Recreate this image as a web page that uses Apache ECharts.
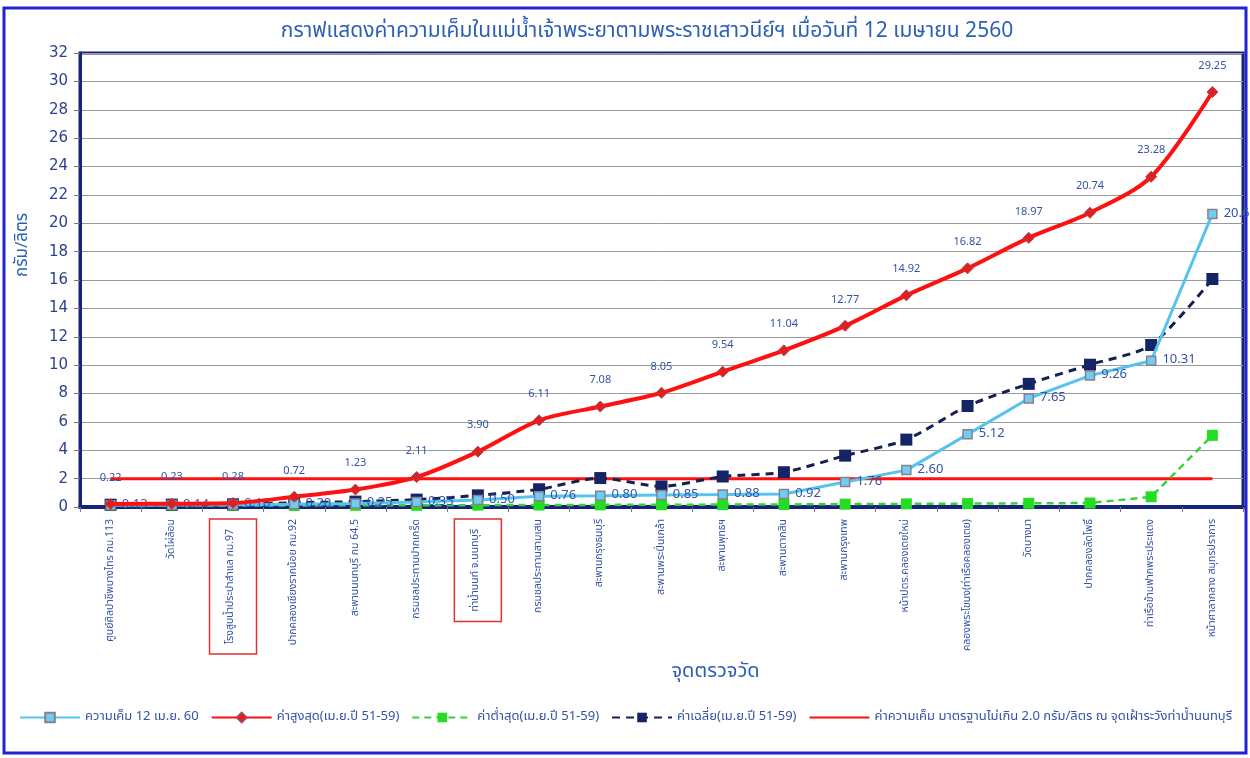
<!DOCTYPE html>
<html>
<head>
<meta charset="utf-8">
<script src="https://cdn.jsdelivr.net/npm/echarts@6/dist/echarts.min.js"></script>
<style>
  html, body { margin: 0; padding: 0; background: #ffffff; }
  #chart { width: 1250px; height: 758px; }
</style>
</head>
<body>
<div id="chart"></div>
<script>
// จุดตรวจวัด
var stations = [
  'ศูนย์ศิลปาชีพบางไทร กม.113', 'วัดไผ่ล้อม', 'โรงสูบน้ำประปาสำแล กม.97',
  'ปากคลองเชียงรากน้อย กม.92', 'สะพานนนทบุรี กม 64.5', 'กรมชลประทานปากเกร็ด',
  'ท่าน้ำนนท์ จ.นนทบุรี', 'กรมชลประทานสามเสน', 'สะพานกรุงธนบุรี',
  'สะพานพระปิ่นเกล้า', 'สะพานพุทธฯ', 'สะพานตากสิน', 'สะพานกรุงเทพ',
  'หน้าปตร.คลองเตยใหม่', 'คลองพระโขนง(ท่าเรือคลองเตย)', 'วัดบางนา',
  'ปากคลองลัดโพธิ์', 'ท่าเรือข้ามฟากพระประแดง', 'หน้าศาลากลาง สมุทรปราการ'
];
var boxedStations = [2, 6];

var salt12Apr60 = [0.13, 0.14, 0.16, 0.20, 0.25, 0.35, 0.50, 0.76, 0.80, 0.85, 0.88, 0.92, 1.76, 2.60, 5.12, 7.65, 9.26, 10.31, 20.66];
var maxApr5159 = [0.22, 0.23, 0.28, 0.72, 1.23, 2.11, 3.90, 6.11, 7.08, 8.05, 9.54, 11.04, 12.77, 14.92, 16.82, 18.97, 20.74, 23.28, 29.25];
var minApr5159 = [0.10, 0.10, 0.11, 0.11, 0.12, 0.12, 0.13, 0.14, 0.15, 0.16, 0.17, 0.18, 0.20, 0.22, 0.24, 0.26, 0.28, 0.72, 5.05];
var avgApr5159 = [0.16, 0.17, 0.19, 0.30, 0.38, 0.52, 0.82, 1.25, 2.04, 1.45, 2.15, 2.45, 3.62, 4.75, 7.12, 8.68, 10.03, 11.42, 16.07];
var standardLimit = stations.map(function () { return 2.0; });

var seriesNames = [
  'ความเค็ม 12 เม.ย. 60',
  'ค่าสูงสุด(เม.ย.ปี 51-59)',
  'ค่าต่ำสุด(เม.ย.ปี 51-59)',
  'ค่าเฉลี่ย(เม.ย.ปี 51-59)',
  'ค่าความเค็ม มาตรฐานไม่เกิน 2.0 กรัม/ลิตร ณ จุดเฝ้าระวังท่าน้ำนนทบุรี'
];

var yMin = 0, yMax = 32, yStep = 2;

var thaiFont = '"Noto Sans Thai", Tahoma, "DejaVu Sans", sans-serif';
var textBlue = '#3553a6';

var myChart = echarts.init(document.getElementById('chart'));

var option = {
  animation: false,
  backgroundColor: '#ffffff',
  textStyle: { fontFamily: thaiFont },
  title: {
    text: 'กราฟแสดงค่าความเค็มในแม่น้ำเจ้าพระยาตามพระราชเสาวนีย์ฯ เมื่อวันที่ 12 เมษายน 2560',
    left: 642, top: 17, textAlign: 'center',
    textStyle: { color: '#2d5fb5', fontSize: 21, fontWeight: 'normal', fontFamily: thaiFont }
  },
  graphic: [{
    type: 'rect', silent: true, z: -1,
    shape: { x: 4, y: 8, width: 1242, height: 745 },
    style: { fill: 'none', stroke: '#2323d6', lineWidth: 3 }
  }],
  legend: {
    left: 14, top: 706,
    itemWidth: 60, itemHeight: 12, itemGap: 12,
    textStyle: { color: textBlue, fontSize: 13, fontFamily: thaiFont },
    data: seriesNames.slice(0, 4).concat([{ name: seriesNames[4], itemStyle: { opacity: 0 } }])
  },
  grid: {
    left: 80, right: 7, top: 53, bottom: 251,
    show: true, borderColor: '#16237a', borderWidth: 3, backgroundColor: 'transparent'
  },
  xAxis: {
    type: 'category',
    data: stations,
    boundaryGap: true,
    name: 'จุดตรวจวัด',
    nameLocation: 'middle',
    nameGap: 132,
    nameTextStyle: { color: '#2d5fb5', fontSize: 20, padding: [0, 0, 0, 108], fontFamily: thaiFont },
    axisLine: { lineStyle: { color: '#16237a', width: 4 } },
    axisTick: { show: true, length: 5, lineStyle: { color: '#777' } },
    axisLabel: {
      interval: 0, rotate: 90, margin: 12,
      color: textBlue, fontSize: 10.5, fontFamily: thaiFont,
      formatter: function (v, i) {
        return boxedStations.indexOf(i) >= 0 ? '{box|' + v + '}' : v;
      },
      rich: {
        box: {
          color: textBlue, fontSize: 10.5, fontFamily: thaiFont,
          borderColor: '#e03030', borderWidth: 1.5,
          padding: [16, 10, 20, 10]
        }
      }
    }
  },
  yAxis: {
    type: 'value',
    min: yMin, max: yMax, interval: yStep,
    name: 'กรัม/ลิตร',
    nameLocation: 'middle',
    nameGap: 48,
    nameRotate: 90,
    nameTextStyle: { color: '#2d5fb5', fontSize: 17, padding: [0, 0, 0, 70], fontFamily: thaiFont },
    axisLine: { show: true, lineStyle: { color: '#16237a', width: 3 } },
    axisTick: { show: true, length: 6, inside: false, lineStyle: { color: '#777' } },
    axisLabel: { color: '#2b3f8f', fontSize: 15, margin: 12, fontFamily: 'Tahoma, "DejaVu Sans", sans-serif' },
    splitLine: { lineStyle: { color: '#999', width: 1 } }
  },
  series: [
    {
      name: seriesNames[0], type: 'line', data: salt12Apr60, z: 4,
      symbol: 'rect', symbolSize: 9,
      lineStyle: { color: '#54c3ee', width: 3 },
      itemStyle: { color: '#6fcdf2', borderColor: '#8a7f8f', borderWidth: 1.5 },
      label: {
        show: true, position: 'right', distance: 6,
        color: textBlue, fontSize: 13,
        formatter: function (p) { return p.value.toFixed(2); }
      }
    },
    {
      name: seriesNames[1], type: 'line', data: maxApr5159, z: 5,
      smooth: 0.3, symbol: 'diamond', symbolSize: 11,
      lineStyle: { color: '#ff1010', width: 4 },
      itemStyle: { color: '#e02020', borderColor: '#b04050', borderWidth: 1 },
      label: {
        show: true, position: 'top', distance: 14,
        color: textBlue, fontSize: 11,
        formatter: function (p) { return p.value.toFixed(2); }
      }
    },
    {
      name: seriesNames[2], type: 'line', data: minApr5159, z: 3,
      symbol: 'rect', symbolSize: 11,
      lineStyle: { color: '#3ad13a', width: 2.5, type: [7, 5] },
      itemStyle: { color: '#22dd22' }
    },
    {
      name: seriesNames[3], type: 'line', data: avgApr5159, z: 3,
      smooth: 0.25, symbol: 'rect', symbolSize: 12,
      lineStyle: { color: '#142050', width: 3, type: [8, 6] },
      itemStyle: { color: '#142466' }
    },
    {
      name: seriesNames[4], type: 'line', data: standardLimit, z: 2,
      symbol: 'none',
      lineStyle: { color: '#ff1010', width: 3 },
      itemStyle: { color: '#ff1010' }
    }
  ]
};

myChart.setOption(option);
window.addEventListener('resize', function () {
  myChart.resize();
});
</script>
</body>
</html>
